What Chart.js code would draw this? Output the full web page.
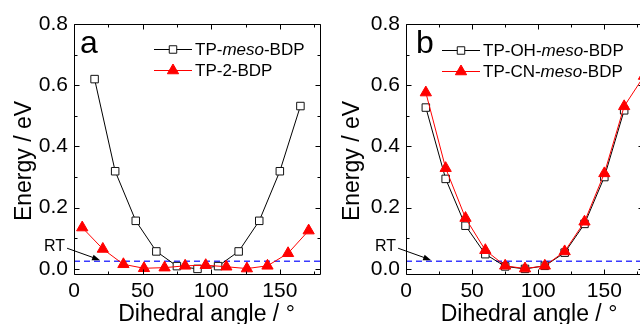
<!DOCTYPE html>
<html>
<head>
<meta charset="utf-8">
<script src="https://cdn.jsdelivr.net/npm/chart.js@4.4.1/dist/chart.umd.min.js"></script>
<style>
  html, body { margin: 0; padding: 0; background: #fff; overflow: hidden; }
  #wrap { position: relative; width: 640px; height: 324px; overflow: hidden; }
  .panel { position: absolute; top: 0; height: 324px; }
  #panel-a { left: 0; width: 330px; }
  #panel-b { left: 320px; width: 340px; }
</style>
</head>
<body>
<div id="wrap">
  <div class="panel" id="panel-a"><canvas id="chart-a"></canvas></div>
  <div class="panel" id="panel-b"><canvas id="chart-b"></canvas></div>
</div>
<script>
// axis ticks
const X_TICKS = [0, 50, 100, 150];
const X_MINOR = [25, 75, 125, 175];
const Y_TICKS = [0, 0.2, 0.4, 0.6, 0.8];
const Y_MINOR = [0.1, 0.3, 0.5, 0.7];

// room temperature level (eV) and where the arrow points to
const RT_ENERGY = 0.025;
const RT_ARROW_ANGLE = 19;

// panel a
const anglesMeso = [15, 30, 45, 60, 75, 90, 105, 120, 135, 150, 165];
const energyMeso = [0.62, 0.319, 0.157, 0.057, 0.009, 0.0, 0.009, 0.057, 0.157, 0.319, 0.532];
const angles2Bdp = [6, 21, 36, 51, 66, 81, 96, 111, 126, 141, 156, 171];
const energy2Bdp = [0.135, 0.065, 0.015, 0.002, 0.004, 0.01, 0.012, 0.007, 0.001, 0.01, 0.051, 0.125];

// panel b
const anglesOh = [15, 30, 45, 60, 75, 90, 105, 120, 135, 150, 165];
const energyOh = [0.527, 0.294, 0.141, 0.048, 0.008, 0.0, 0.01, 0.053, 0.147, 0.3, 0.518];
const anglesCn = [15, 30, 45, 60, 75, 90, 105, 120, 135, 150, 165, 180];
const energyCn = [0.576, 0.329, 0.166, 0.061, 0.01, 0.001, 0.01, 0.057, 0.154, 0.312, 0.531, 0.63];

// legend labels, [text, italic]
const labelMeso = [["TP-", false], ["meso", true], ["-BDP", false]];
const label2Bdp = [["TP-2-BDP", false]];
const labelOh = [["TP-OH-", false], ["meso", true], ["-BDP", false]];
const labelCn = [["TP-CN-", false], ["meso", true], ["-BDP", false]];

const X_TITLE = "Dihedral angle / \u00b0";
const Y_TITLE = "Energy / eV";

const FONT = '"Liberation Sans", Arial, Helvetica, sans-serif';

const toPoints = (xs, ys) => xs.map((x, i) => ({ x, y: ys[i] }));

function blackSeries(xs, ys) {
  return {
    data: toPoints(xs, ys),
    showLine: true,
    borderColor: "#000",
    borderWidth: 1,
    pointStyle: "rect",
    pointRadius: 5.3,
    pointBackgroundColor: "#fff",
    pointBorderColor: "#111",
    pointBorderWidth: 1,
    clip: false,
    order: 1,
  };
}

function redSeries(xs, ys) {
  return {
    data: toPoints(xs, ys),
    showLine: true,
    borderColor: "#f00",
    borderWidth: 1,
    pointStyle: "triangle",
    pointRadius: 6.5,
    pointBackgroundColor: "#f00",
    pointBorderColor: "#f00",
    pointBorderWidth: 1,
    clip: false,
    order: 0,
  };
}

function rtSeries() {
  return {
    data: [{ x: 0, y: RT_ENERGY }, { x: 180, y: RT_ENERGY }],
    showLine: true,
    borderColor: "#3a3aff",
    borderWidth: 1.4,
    borderDash: [6, 4],
    pointRadius: 0,
    order: 2,
  };
}

function drawLabel(ctx, parts, x, y, size) {
  parts.forEach(([text, italic]) => {
    ctx.font = `${italic ? "italic " : ""}${size}px ${FONT}`;
    ctx.fillText(text, x, y);
    x += ctx.measureText(text).width;
  });
}

const panelDecor = {
  id: "panelDecor",
  afterDatasetsDraw(chart, args, opts) {
    const { ctx, chartArea: area } = chart;
    const xs = chart.scales.x;
    const ys = chart.scales.y;
    ctx.save();
    ctx.strokeStyle = "#000";
    ctx.fillStyle = "#000";
    ctx.lineWidth = 1;

    // frame with inward ticks on all sides
    const L = Math.round(area.left) + 0.5;
    const R = Math.round(area.right) - 0.5;
    const T = Math.round(area.top) + 0.5;
    const B = Math.round(area.bottom) - 0.5;
    ctx.beginPath();
    ctx.rect(L, T, R - L, B - T);
    const xTick = (v, len) => {
      const px = Math.round(xs.getPixelForValue(v)) + 0.5;
      ctx.moveTo(px, B); ctx.lineTo(px, B - len);
      ctx.moveTo(px, T); ctx.lineTo(px, T + len);
    };
    const yTick = (v, len) => {
      const py = Math.round(ys.getPixelForValue(v)) + 0.5;
      ctx.moveTo(L, py); ctx.lineTo(L + len, py);
      ctx.moveTo(R, py); ctx.lineTo(R - len, py);
    };
    X_TICKS.forEach((v) => xTick(v, 5));
    X_MINOR.forEach((v) => xTick(v, 3));
    Y_TICKS.forEach((v) => yTick(v, 5));
    Y_MINOR.forEach((v) => yTick(v, 3));
    ctx.stroke();

    // panel letter
    ctx.textAlign = "left";
    ctx.textBaseline = "alphabetic";
    ctx.font = `32px ${FONT}`;
    ctx.fillText(opts.letter, area.left + opts.letterDx, opts.letterY);

    // legend
    opts.legend.forEach((item, i) => {
      const ds = chart.data.datasets[item.ds];
      const ly = opts.legendY + i * 21;
      const lx = opts.legendX;
      ctx.strokeStyle = ds.borderColor;
      ctx.beginPath();
      ctx.moveTo(lx, ly + 0.5);
      ctx.lineTo(lx + 38, ly + 0.5);
      ctx.stroke();
      ctx.fillStyle = ds.pointBackgroundColor;
      ctx.strokeStyle = ds.pointBorderColor;
      ctx.lineWidth = ds.pointBorderWidth;
      Chart.helpers.drawPoint(ctx, {
        pointStyle: ds.pointStyle,
        radius: ds.pointRadius,
        rotation: 0,
        borderWidth: ds.pointBorderWidth,
      }, lx + 19, ly + 0.5);
      ctx.fillStyle = "#000";
      ctx.textBaseline = "middle";
      drawLabel(ctx, item.label, lx + 41, ly + 1, 17);
    });

    // RT label with arrow onto the dashed line
    const tipX = xs.getPixelForValue(RT_ARROW_ANGLE);
    const tipY = ys.getPixelForValue(RT_ENERGY) - 1;
    const sx = tipX - 33;
    const sy = tipY - 12;
    ctx.strokeStyle = "#000";
    ctx.fillStyle = "#000";
    ctx.lineWidth = 1;
    ctx.beginPath();
    ctx.moveTo(sx, sy);
    ctx.lineTo(tipX - 5, tipY - 2);
    ctx.stroke();
    const ang = Math.atan2(tipY - sy, tipX - sx);
    ctx.beginPath();
    ctx.moveTo(tipX, tipY);
    ctx.lineTo(tipX - 8 * Math.cos(ang) + 3 * Math.sin(ang), tipY - 8 * Math.sin(ang) - 3 * Math.cos(ang));
    ctx.lineTo(tipX - 8 * Math.cos(ang) - 3 * Math.sin(ang), tipY - 8 * Math.sin(ang) + 3 * Math.cos(ang));
    ctx.closePath();
    ctx.fill();
    ctx.font = `16px ${FONT}`;
    ctx.textAlign = "right";
    ctx.textBaseline = "middle";
    ctx.fillText("RT", sx - 2, sy - 2);

    // axis titles
    ctx.font = `23px ${FONT}`;
    ctx.textAlign = "center";
    ctx.textBaseline = "alphabetic";
    ctx.fillText(X_TITLE, (area.left + area.right) / 2 + opts.xTitleShift, 321);
    ctx.save();
    ctx.translate(opts.yTitleX, 161);
    ctx.rotate(-Math.PI / 2);
    ctx.textBaseline = "middle";
    ctx.fillText(Y_TITLE, 0, 0);
    ctx.restore();

    ctx.restore();
  },
};

function makeChart(canvasId, datasets, decor, axisWidth, padRight) {
  return new Chart(document.getElementById(canvasId), {
    type: "scatter",
    data: { datasets },
    options: {
      responsive: true,
      maintainAspectRatio: false,
      animation: false,
      events: [],
      layout: { padding: { top: 24, right: padRight, left: 0, bottom: 0 } },
      plugins: {
        legend: { display: false },
        tooltip: { enabled: false },
        panelDecor: decor,
      },
      scales: {
        x: {
          type: "linear",
          min: 0,
          max: 180,
          afterBuildTicks: (s) => { s.ticks = X_TICKS.map((v) => ({ value: v })); },
          afterFit: (s) => { s.height = 49; },
          grid: { display: false, drawTicks: false },
          border: { display: false },
          ticks: { color: "#000", padding: 4, maxRotation: 0, font: { family: FONT, size: 21 } },
        },
        y: {
          type: "linear",
          min: -0.02,
          max: 0.8,
          afterBuildTicks: (s) => { s.ticks = Y_TICKS.map((v) => ({ value: v })); },
          afterFit: (s) => { s.width = axisWidth; },
          grid: { display: false, drawTicks: false },
          border: { display: false },
          ticks: {
            color: "#000",
            padding: 6,
            font: { family: FONT, size: 21 },
            callback: (v) => v.toFixed(1),
          },
        },
      },
    },
    plugins: [panelDecor],
  });
}

makeChart(
  "chart-a",
  [blackSeries(anglesMeso, energyMeso), redSeries(angles2Bdp, energy2Bdp), rtSeries()],
  {
    letter: "a",
    letterDx: 6,
    letterY: 53,
    legendX: 154,
    legendY: 49,
    legend: [{ ds: 0, label: labelMeso }, { ds: 1, label: label2Bdp }],
    xTitleShift: 9,
    yTitleX: 25,
  },
  74,
  9
);

makeChart(
  "chart-b",
  [blackSeries(anglesOh, energyOh), redSeries(anglesCn, energyCn), rtSeries()],
  {
    letter: "b",
    letterDx: 10,
    letterY: 53,
    legendX: 122,
    legendY: 50,
    legend: [{ ds: 0, label: labelOh }, { ds: 1, label: labelCn }],
    xTitleShift: 4,
    yTitleX: 33,
  },
  86,
  16
);
</script>
</body>
</html>
